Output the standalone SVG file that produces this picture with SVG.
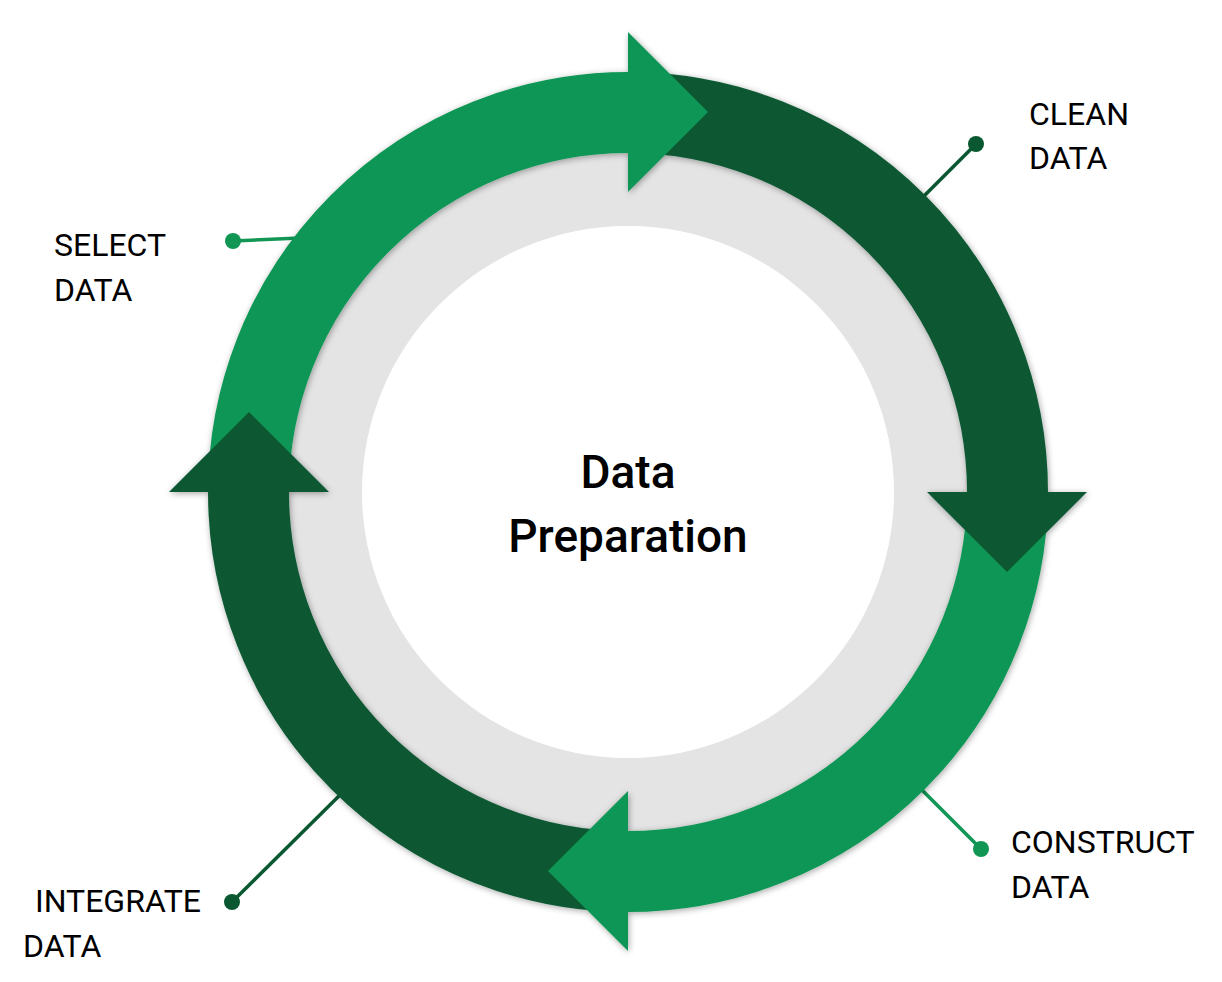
<svg xmlns="http://www.w3.org/2000/svg" width="1222" height="982" viewBox="0 0 1222 982">
  <style>
    .label { font-family: Roboto, "Liberation Sans", sans-serif; font-size: 32px; font-weight: 400; fill: #000; }
    .title { font-family: Roboto, "Liberation Sans", sans-serif; font-size: 46px; font-weight: 500; fill: #000; text-anchor: middle; }
    .arc { fill: none; stroke-width: 81; }
    .light { stroke: #119654; }
    .dark { stroke: #0a5832; }
    .head-light { fill: #119654; }
    .head-dark { fill: #0a5832; }
    .lead-light { stroke: #119654; stroke-width: 3.5; }
    .lead-dark { stroke: #0a5832; stroke-width: 3.5; }
  </style>
  <defs>
    <filter id="softShadow" x="-10%" y="-10%" width="120%" height="120%">
      <feDropShadow dx="1" dy="1.5" stdDeviation="3" flood-color="#000" flood-opacity="0.35"/>
    </filter>
  </defs>

  <rect width="1222" height="982" fill="#ffffff"/>

  <!-- backdrop disc and inner white circle -->
  <g id="hub">
    <circle cx="628" cy="492" r="340" fill="#e4e4e4"/>
    <circle cx="628" cy="492" r="266" fill="#ffffff"/>
    <text class="title" x="628" y="488">Data</text>
    <text class="title" x="628" y="552">Preparation</text>
  </g>

  <!-- leader lines from the ring to the step labels -->
  <g id="connectors">
    <line class="lead-light" x1="300" y1="238" x2="233" y2="241"/>
    <circle cx="233" cy="241" r="8" fill="#119654"/>
    <line class="lead-dark" x1="915" y1="205" x2="976" y2="144"/>
    <circle cx="976" cy="144" r="8" fill="#0a5832"/>
    <line class="lead-light" x1="915" y1="783" x2="981" y2="849"/>
    <circle cx="981" cy="849" r="8" fill="#119654"/>
    <line class="lead-dark" x1="345" y1="790" x2="232" y2="902"/>
    <circle cx="232" cy="902" r="8" fill="#0a5832"/>
  </g>

  <!-- cycle ring: four quarter arcs, each ending in an arrowhead -->
  <g id="cycle" filter="url(#softShadow)">
    <path class="arc light" d="M248.5 492 A379.5 379.5 0 0 1 628 112.5"/>
    <path class="arc dark" d="M628 112.5 A379.5 379.5 0 0 1 1007.5 492"/>
    <path class="arc light" d="M1007.5 492 A379.5 379.5 0 0 1 628 871.5"/>
    <path class="arc dark" d="M628 871.5 A379.5 379.5 0 0 1 248.5 492"/>
    <polygon class="head-light" points="628,32 708,112 628,192"/>
    <polygon class="head-dark" points="927,492 1087,492 1007,572"/>
    <polygon class="head-light" points="628,791 628,951 548,871"/>
    <polygon class="head-dark" points="169,492 249,412 329,492"/>
  </g>

  <g id="select-data">
    <text class="label" x="54" y="256">SELECT</text>
    <text class="label" x="54" y="301">DATA</text>
  </g>
  <g id="clean-data">
    <text class="label" x="1029" y="125">CLEAN</text>
    <text class="label" x="1029" y="169">DATA</text>
  </g>
  <g id="construct-data">
    <text class="label" x="1011" y="853">CONSTRUCT</text>
    <text class="label" x="1011" y="898">DATA</text>
  </g>
  <g id="integrate-data">
    <text class="label" x="35" y="912">INTEGRATE</text>
    <text class="label" x="23" y="957">DATA</text>
  </g>
</svg>
